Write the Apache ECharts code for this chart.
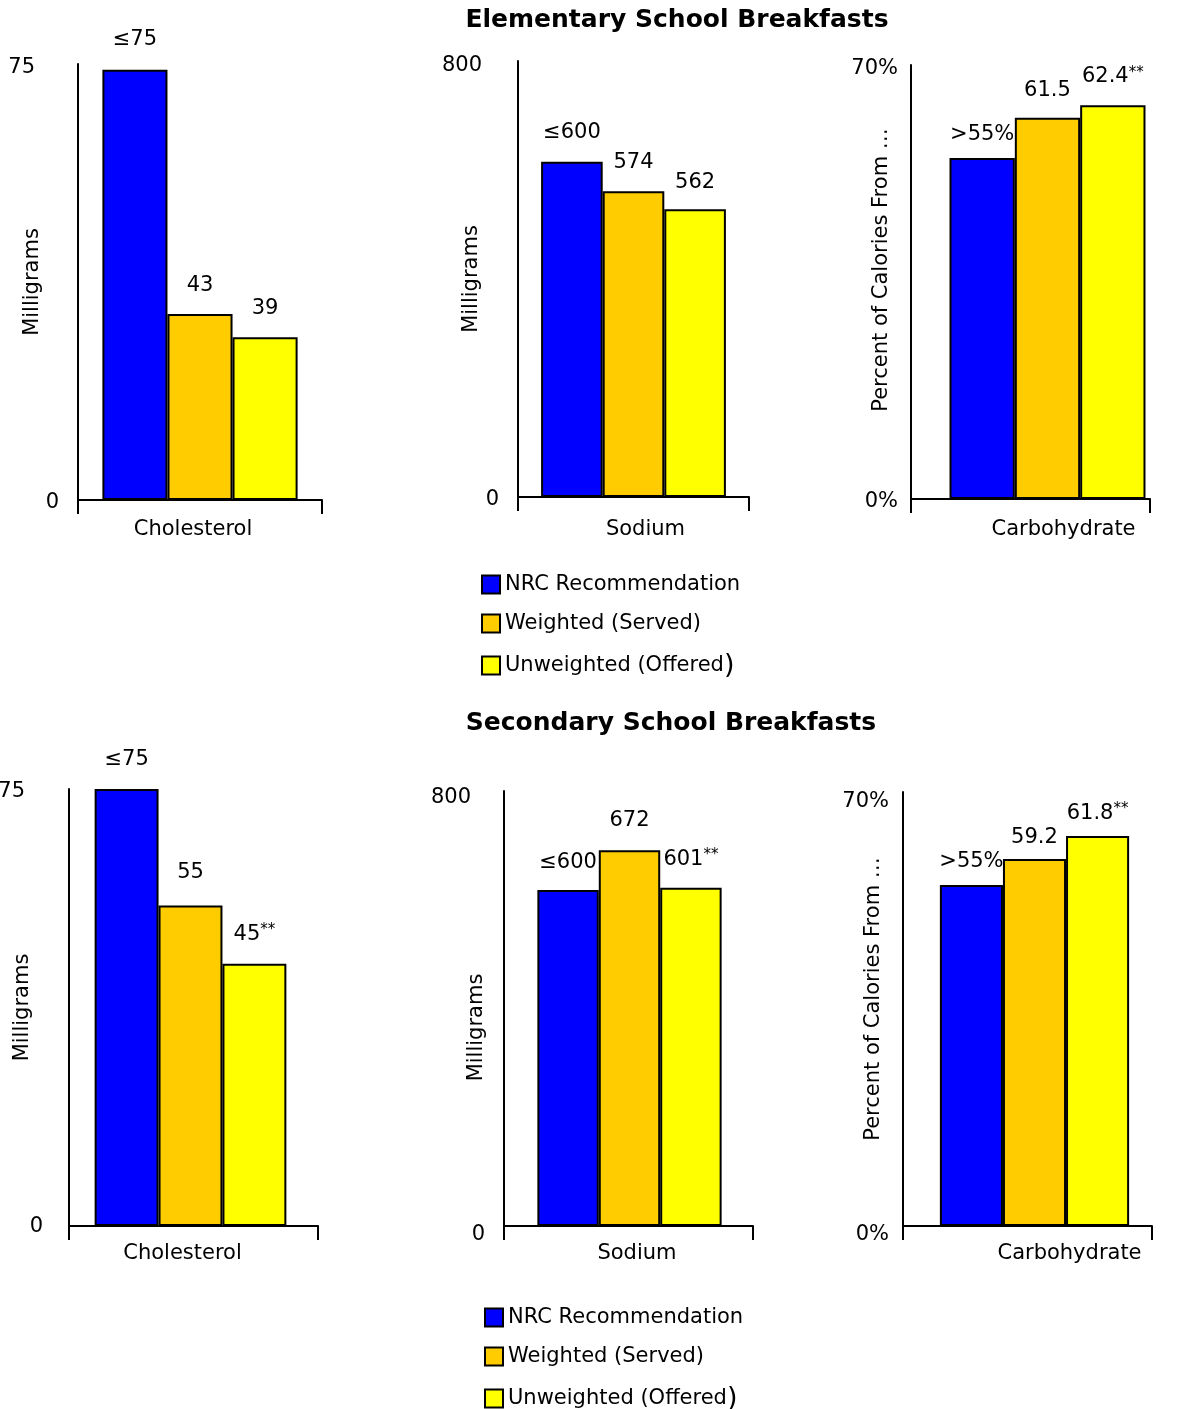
<!DOCTYPE html>
<html><head><meta charset="utf-8">
<script src="https://cdn.jsdelivr.net/npm/echarts@6/dist/echarts.min.js"></script>
<style>html,body{margin:0;padding:0;background:#fff}#c{width:1183px;height:1409px}</style>
</head><body><div id="c"></div>
<script>
// ---------- data ----------
const schoolTitles = ['Elementary School Breakfasts', 'Secondary School Breakfasts'];
const seriesNames = ['NRC Recommendation', 'Weighted (Served)', 'Unweighted (Offered)'];
const nutrientCategories = ['Cholesterol', 'Sodium', 'Carbohydrate'];
const yAxisNames = ['Milligrams', 'Milligrams', 'Percent of Calories From …'];
const yAxisMax = [75, 800, 70];
const yTickLabels = [['0', '75'], ['0', '800'], ['0%', '70%']];

// bar heights as drawn in the picture
const elemCholesterol = [74, 32, 28];
const elemSodium = [615, 561, 528];
const elemCarbohydrate = [55.0, 61.5, 63.5];
const secCholesterol = [75, 55, 45];
const secSodium = [618, 691, 622];
const secCarbohydrate = [55.0, 59.2, 62.9];

// value labels printed above the bars
const elemCholesterolLabels = ['≤75', '43', '39'];
const elemSodiumLabels = ['≤600', '574', '562'];
const elemCarbohydrateLabels = ['>55%', '61.5', '62.4**'];
const secCholesterolLabels = ['≤75', '55', '45**'];
const secSodiumLabels = ['≤600', '672', '601**'];
const secCarbohydrateLabels = ['>55%', '59.2', '61.8**'];

// ---------- layout / style ----------
const FONT = 'DejaVu Sans';
const colors = ['#0000FF', '#FFCC00', '#FFFF00'];
const panelValues = [elemCholesterol, elemSodium, elemCarbohydrate, secCholesterol, secSodium, secCarbohydrate];
const panelLabels = [elemCholesterolLabels, elemSodiumLabels, elemCarbohydrateLabels, secCholesterolLabels, secSodiumLabels, secCarbohydrateLabels];
const panelLayout = [
  {grid: {left: 78, top: 64, width: 244, height: 436}, barShift: 0, yMargin: 19, yTopExtra: 24, yShift: [3, 4], xPad: [0, 14, 0, 0], xMargin: 19.5, nameGap: 35, namePad: [0, 0, 0, 0], gap: '20%', dist: [20, 18, 18]},
  {grid: {left: 518, top: 61, width: 231, height: 436}, barShift: 0, yMargin: 19, yTopExtra: 17, yShift: [3, 5], xPad: [0, 0, 0, 24], xMargin: 22.5, nameGap: 36, namePad: [0, 0, 0, 0], gap: '20%', dist: [19, 18, 16]},
  {grid: {left: 911, top: 65, width: 239, height: 434}, barShift: 17, yMargin: 13, yTopExtra: 0, yShift: [3, 4], xPad: [0, 0, 0, 66], xMargin: 20.5, nameGap: 19, namePad: [0, 0, 0, 24], gap: '18%', dist: [13, 17, 17]},
  {grid: {left: 69, top: 789, width: 249, height: 437}, barShift: -3, yMargin: 26, yTopExtra: 18, yShift: [1, 3], xPad: [0, 22, 0, 0], xMargin: 17.5, nameGap: 36, namePad: [0, 0, 0, 0], gap: '23%', dist: [19, 22, 18]},
  {grid: {left: 504, top: 791, width: 249, height: 435}, barShift: 1, yMargin: 19, yTopExtra: 14, yShift: [9, 7], xPad: [0, 0, 0, 17], xMargin: 17.5, nameGap: 17, namePad: [0, 38, 0, 0], gap: '26%', dist: [17, 19, 17]},
  {grid: {left: 903, top: 792, width: 249, height: 434}, barShift: 7, yMargin: 14, yTopExtra: 0, yShift: [9, 10], xPad: [0, 0, 0, 84], xMargin: 17.5, nameGap: 19, namePad: [0, 0, 0, 20], gap: '24%', dist: [13, 11, 11]}
];

function richValue(s) {
  const i = s.indexOf('**');
  if (i < 0) return '{v|' + s + '}';
  return '{v|' + s.slice(0, i) + '}{s|**}';
}

const grids = [], xAxes = [], yAxes = [], series = [];
panelLayout.forEach((L, p) => {
  const k = p % 3;
  // visible axes grid
  const gi = grids.length;
  grids.push(Object.assign({containLabel: false, outerBoundsMode: 'none'}, L.grid));
  xAxes.push({
    type: 'category', gridIndex: gi, data: [nutrientCategories[k]], boundaryGap: true,
    axisLine: {lineStyle: {color: '#000', width: 2}},
    axisTick: {show: true, length: 14, lineStyle: {color: '#000', width: 2}},
    axisLabel: {color: '#000', fontSize: 21, fontFamily: FONT, margin: L.xMargin, padding: L.xPad}
  });
  yAxes.push({
    type: 'value', gridIndex: gi, min: 0, max: yAxisMax[k], interval: yAxisMax[k],
    splitLine: {show: false}, axisTick: {show: false},
    axisLine: {show: true, lineStyle: {color: '#000', width: 2}},
    name: yAxisNames[k], nameLocation: 'middle', nameGap: L.nameGap, nameMoveOverlap: false,
    nameTextStyle: {color: '#000', fontSize: 21, fontFamily: FONT, padding: L.namePad},
    axisLabel: {
      color: '#000', fontSize: 21, fontFamily: FONT, margin: L.yMargin,
      formatter: v => v === yAxisMax[k] ? '{t|' + yTickLabels[k][1] + '}' : '{b|' + yTickLabels[k][0] + '}',
      rich: {
        t: {fontSize: 21, fontFamily: FONT, color: '#000', padding: [2 * L.yShift[1], L.yTopExtra, 0, 0]},
        b: {fontSize: 21, fontFamily: FONT, color: '#000', padding: [2 * L.yShift[0], 0, 0, 0]}
      }
    }
  });
  let bi = gi;
  if (L.barShift) {
    // bars sit slightly off-centre in the original; a hidden twin grid with the same scale carries them
    bi = grids.length;
    grids.push(Object.assign({}, L.grid, {left: L.grid.left + L.barShift, containLabel: false, outerBoundsMode: 'none'}));
    xAxes.push({type: 'category', gridIndex: bi, data: [nutrientCategories[k]], boundaryGap: true, show: false});
    yAxes.push({type: 'value', gridIndex: bi, min: 0, max: yAxisMax[k], interval: yAxisMax[k], show: false, splitLine: {show: false}});
  }
  for (let s = 0; s < 3; s++) {
    series.push({
      type: 'bar', name: seriesNames[s], xAxisIndex: bi, yAxisIndex: bi,
      data: [panelValues[p][s]], barGap: '0%', barCategoryGap: L.gap,
      itemStyle: {color: colors[s], borderColor: '#000', borderWidth: 2},
      label: {
        show: true, position: 'top', distance: L.dist[s],
        formatter: () => richValue(panelLabels[p][s]),
        rich: {
          v: {fontSize: 21, fontFamily: FONT, color: '#000'},
          s: {fontSize: 15, fontFamily: FONT, color: '#000', padding: [0, 0, 8, 0]}
        }
      },
      emphasis: {disabled: true}
    });
  }
});

function legendAt(left, top) {
  return {
    orient: 'vertical', left: left, top: top, height: 130, padding: 0, icon: 'rect',
    itemWidth: 18, itemHeight: 18, itemGap: 18,
    selectedMode: false, data: seriesNames,
    itemStyle: {borderColor: '#000', borderWidth: 2},
    formatter: name => {
      if (name.endsWith(')') && name.startsWith('Unweighted')) return '{n|' + name.slice(0, -1) + '}{p|)}';
      return '{n|' + name + '}';
    },
    textStyle: {
      color: '#000', fontSize: 21, lineHeight: 21, fontFamily: FONT,
      rich: {
        n: {fontSize: 21, lineHeight: 21, height: 21, fontFamily: FONT, color: '#000'},
        p: {fontSize: 27, lineHeight: 21, height: 21, fontFamily: FONT, color: '#000'}
      }
    }
  };
}

const chart = echarts.init(document.getElementById('c'), null, {renderer: 'canvas'});
chart.setOption({
  backgroundColor: '#fff',
  animation: false,
  title: [
    {text: schoolTitles[0], left: 677, top: 8, textAlign: 'center', padding: 0, textStyle: {fontSize: 25, fontWeight: 'bold', fontFamily: FONT, color: '#000'}},
    {text: schoolTitles[1], left: 671, top: 711, textAlign: 'center', padding: 0, textStyle: {fontSize: 25, fontWeight: 'bold', fontFamily: FONT, color: '#000'}}
  ],
  legend: [legendAt(481, 574), legendAt(484, 1307)],
  grid: grids, xAxis: xAxes, yAxis: yAxes, series: series
});
</script></body></html>
